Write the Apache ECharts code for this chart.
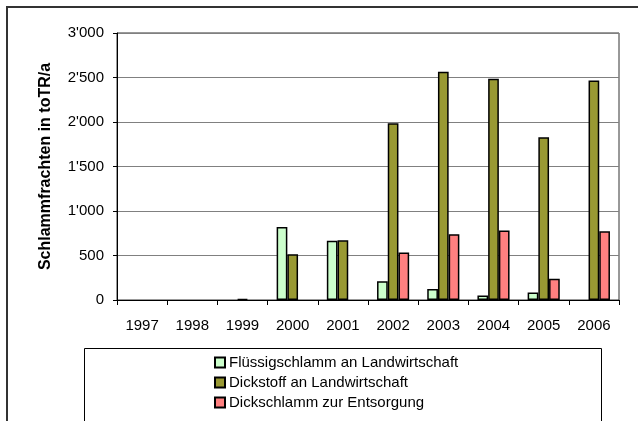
<!DOCTYPE html>
<html>
<head>
<meta charset="utf-8">
<script src="https://cdn.jsdelivr.net/npm/echarts@6/dist/echarts.min.js"></script>
<style>
  html, body { margin: 0; padding: 0; background: #fff; }
  #chart { width: 638px; height: 421px; }
</style>
</head>
<body>
<div id="chart"></div>
<script>
const years = ['1997', '1998', '1999', '2000', '2001', '2002', '2003', '2004', '2005', '2006']
const fluessig = [null, null, null, 820, 665, 210, 125, 50, 85, null]
const dickstoff = [null, null, 10, 515, 670, 1985, 2565, 2485, 1830, 2465]
const dickschlamm = [null, null, null, null, null, 535, 740, 780, 240, 772]
const seriesNames = ['Flüssigschlamm an Landwirtschaft', 'Dickstoff an Landwirtschaft', 'Dickschlamm zur Entsorgung']
const seriesColors = ['#CCFFCC', '#999933', '#FF8080']

const font = '"Liberation Sans", Arial, sans-serif'

const chart = echarts.init(document.getElementById('chart'))

const fmt = (v) => {
  if (v >= 1000) {
    const s = String(v)
    return s.slice(0, s.length - 3) + "'" + s.slice(-3)
  }
  return String(v)
}

const mkSeries = (name, data, color) => ({
  name: name,
  type: 'bar',
  data: data,
  barGap: '0%',
  barCategoryGap: '36%',
  itemStyle: {
    color: color,
    borderColor: '#000',
    borderWidth: 1.5,
  },
})

const option = {
  animation: false,
  backgroundColor: '#fff',
  textStyle: { fontFamily: font },
  graphic: [
    {
      type: 'rect',
      shape: { x: 7, y: 7, width: 700, height: 500 },
      style: { fill: 'none', stroke: '#333', lineWidth: 2 },
      z: -1,
    },
    {
      type: 'rect',
      shape: { x: 84.5, y: 348.5, width: 517, height: 100 },
      style: { fill: 'none', stroke: '#000', lineWidth: 1 },
      z: -1,
    },
  ],
  grid: {
    left: 117,
    right: 19,
    top: 33,
    bottom: 121,
    show: true,
    borderColor: '#333',
    borderWidth: 1,
  },
  legend: {
    orient: 'vertical',
    left: 209,
    top: 350,
    itemWidth: 10,
    itemHeight: 10,
    itemGap: 5,
    icon: 'rect',
    data: seriesNames,
    textStyle: { fontFamily: font, fontSize: 15, color: '#000', padding: [0, 0, 0, -1] },
  },
  xAxis: {
    type: 'category',
    data: years,
    axisLine: { lineStyle: { color: '#000', width: 1 } },
    axisTick: { show: true, length: 5, interval: 0, lineStyle: { color: '#000' } },
    axisLabel: { color: '#000', fontSize: 15, fontFamily: font, margin: 18, interval: 0 },
  },
  yAxis: {
    type: 'value',
    min: 0,
    max: 3000,
    interval: 500,
    name: 'Schlammfrachten in toTR/a',
    nameLocation: 'middle',
    nameGap: 63,
    nameTextStyle: { color: '#000', fontSize: 16, fontWeight: 'bold', fontFamily: font },
    axisLine: { show: true, lineStyle: { color: '#000', width: 1 } },
    axisTick: { show: true, length: 4, lineStyle: { color: '#000' } },
    axisLabel: { color: '#000', fontSize: 15, fontFamily: font, margin: 13, formatter: fmt },
    splitLine: { lineStyle: { color: '#808080', width: 1 } },
  },
  series: [
    mkSeries(seriesNames[0], fluessig, seriesColors[0]),
    mkSeries(seriesNames[1], dickstoff, seriesColors[1]),
    mkSeries(seriesNames[2], dickschlamm, seriesColors[2]),
  ],
}

chart.setOption(option)
</script>
</body>
</html>
